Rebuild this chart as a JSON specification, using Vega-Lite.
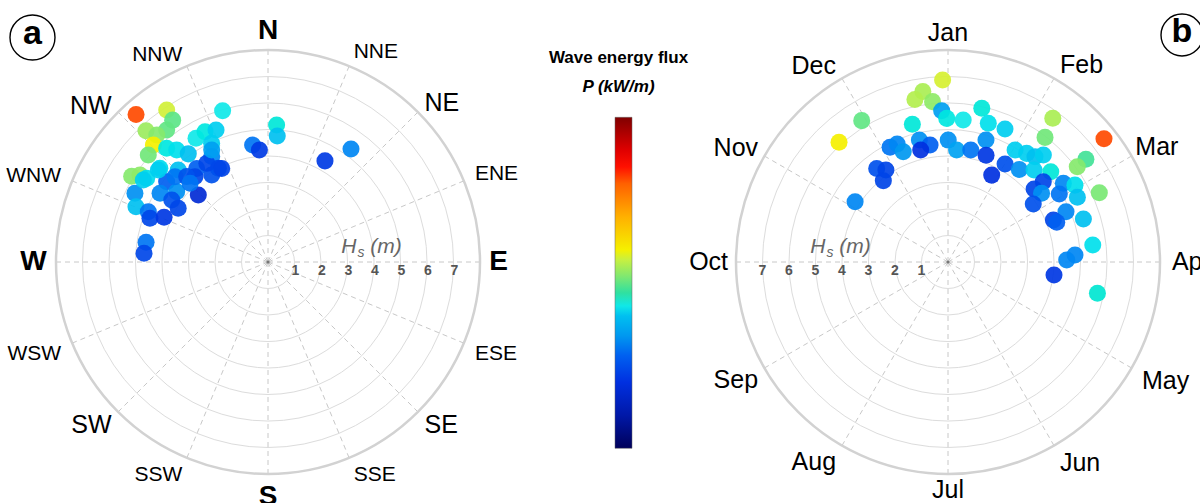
{
"$schema": "https://vega.github.io/schema/vega-lite/v6.json",
"padding": 0,
"spacing": 79,
"bounds": "flush",
"config": {"view": {"stroke": null}, "font": "Liberation Sans"},
"datasets": {
"rings": [{"r":1},{"r":2},{"r":3},{"r":4},{"r":5},{"r":6},{"r":7}],
"outer": [{"r":8}],
"center": [{"r":0}],
"spokesA": [{"deg":0},{"deg":22.5},{"deg":45},{"deg":67.5},{"deg":90},{"deg":112.5},{"deg":135},{"deg":157.5},{"deg":180},{"deg":202.5},{"deg":225},{"deg":247.5},{"deg":270},{"deg":292.5},{"deg":315},{"deg":337.5}],
"spokesB": [{"deg":0},{"deg":30},{"deg":60},{"deg":90},{"deg":120},{"deg":150},{"deg":180},{"deg":210},{"deg":240},{"deg":270},{"deg":300},{"deg":330}],
"compass": [{"name":"N","deg":0,"level":1},{"name":"NNE","deg":22.5,"level":3},{"name":"NE","deg":45,"level":2},{"name":"ENE","deg":67.5,"level":3},{"name":"E","deg":90,"level":1},{"name":"ESE","deg":112.5,"level":3},{"name":"SE","deg":135,"level":2},{"name":"SSE","deg":157.5,"level":3},{"name":"S","deg":180,"level":1},{"name":"SSW","deg":202.5,"level":3},{"name":"SW","deg":225,"level":2},{"name":"WSW","deg":247.5,"level":3},{"name":"W","deg":270,"level":1},{"name":"WNW","deg":292.5,"level":3},{"name":"NW","deg":315,"level":2},{"name":"NNW","deg":337.5,"level":3}],
"months": [{"name":"Jan","deg":0},{"name":"Feb","deg":30},{"name":"Mar","deg":60},{"name":"Apr","deg":90},{"name":"May","deg":120},{"name":"Jun","deg":150},{"name":"Jul","deg":180},{"name":"Aug","deg":210},{"name":"Sep","deg":240},{"name":"Oct","deg":270},{"name":"Nov","deg":300},{"name":"Dec","deg":330}],
"hsTicks": [{"v":1},{"v":2},{"v":3},{"v":4},{"v":5},{"v":6},{"v":7}],
"hsLabA": [{"x":3.92,"y":0}],
"hsLabB": [{"x":-4.04,"y":0}],
"tagA": [{"tag":"a","x":-8.887,"y":8.472}],
"tagB": [{"tag":"b","x":8.83,"y":8.566}],
"ptsA": [
{"dir":318.2,"hs":7.47,"P":410},{"dir":326.3,"hs":6.89,"P":288},{"dir":326.1,"hs":6.45,"P":248},{"dir":343.3,"hs":5.96,"P":215},
{"dir":317.1,"hs":6.76,"P":270},{"dir":322.5,"hs":6.28,"P":250},{"dir":318.8,"hs":6.37,"P":262},{"dir":315.6,"hs":6.18,"P":300},
{"dir":311.8,"hs":6.06,"P":255},{"dir":302.2,"hs":6.08,"P":262},{"dir":304.2,"hs":5.84,"P":265},{"dir":318.3,"hs":5.75,"P":218},
{"dir":320.8,"hs":5.45,"P":212},{"dir":329.8,"hs":5.40,"P":215},{"dir":334.2,"hs":5.46,"P":218},{"dir":338.5,"hs":5.35,"P":205},
{"dir":323.6,"hs":5.07,"P":200},{"dir":334.6,"hs":4.96,"P":205},{"dir":331.9,"hs":4.51,"P":160},{"dir":332.1,"hs":4.00,"P":118},
{"dir":327.1,"hs":3.91,"P":128},{"dir":322.7,"hs":4.44,"P":140},{"dir":319.4,"hs":4.24,"P":118},{"dir":315.7,"hs":4.85,"P":200},
{"dir":310.9,"hs":5.40,"P":210},{"dir":304.6,"hs":5.56,"P":210},{"dir":308.4,"hs":4.88,"P":140},{"dir":307.6,"hs":4.35,"P":165},
{"dir":302.5,"hs":4.83,"P":160},{"dir":297.3,"hs":5.65,"P":165},{"dir":292.7,"hs":5.40,"P":200},{"dir":302.8,"hs":4.32,"P":128},
{"dir":300.9,"hs":3.95,"P":118},{"dir":313.9,"hs":3.65,"P":90},{"dir":292.8,"hs":4.90,"P":150},{"dir":290.3,"hs":4.75,"P":118},
{"dir":293.3,"hs":4.27,"P":105},{"dir":279.2,"hs":4.66,"P":150},{"dir":274.0,"hs":4.69,"P":118},{"dir":352.5,"hs":4.45,"P":150},
{"dir":355.6,"hs":4.24,"P":108},{"dir":3.6,"hs":5.18,"P":220},{"dir":4.2,"hs":4.77,"P":200},{"dir":29.4,"hs":4.38,"P":108},
{"dir":36.3,"hs":5.29,"P":160},{"dir":328.2,"hs":4.38,"P":118},{"dir":333.7,"hs":3.94,"P":115},{"dir":333.3,"hs":4.73,"P":175},
{"dir":312.5,"hs":4.76,"P":150},{"dir":316.4,"hs":4.45,"P":128},{"dir":315.3,"hs":4.18,"P":150},{"dir":303.3,"hs":5.63,"P":205},
{"dir":310.0,"hs":5.40,"P":205}
],
"ptsB": [
{"ang":358.3,"hs":6.87,"P":290},{"ang":351.6,"hs":6.50,"P":275},{"ang":348.5,"hs":6.26,"P":278},{"ang":354.5,"hs":6.08,"P":265},
{"ang":357.6,"hs":5.71,"P":175},{"ang":359.5,"hs":5.42,"P":218},{"ang":6.1,"hs":5.39,"P":215},{"ang":345.5,"hs":5.37,"P":220},
{"ang":328.6,"hs":6.25,"P":250},{"ang":317.7,"hs":6.11,"P":300},{"ang":346.8,"hs":4.73,"P":165},{"ang":351.3,"hs":4.47,"P":140},
{"ang":346.3,"hs":4.35,"P":100},{"ang":0.1,"hs":4.60,"P":165},{"ang":4.4,"hs":4.24,"P":178},{"ang":11.5,"hs":4.31,"P":150},
{"ang":333.2,"hs":4.85,"P":150},{"ang":336.7,"hs":4.85,"P":160},{"ang":337.9,"hs":4.49,"P":170},{"ang":322.7,"hs":4.44,"P":125},
{"ang":326.0,"hs":4.19,"P":115},{"ang":321.5,"hs":3.92,"P":115},{"ang":303.0,"hs":4.18,"P":160},{"ang":12.4,"hs":5.94,"P":220},
{"ang":16.2,"hs":5.45,"P":212},{"ang":23.2,"hs":5.46,"P":205},{"ang":17.3,"hs":4.82,"P":165},{"ang":19.6,"hs":4.28,"P":105},
{"ang":26.7,"hs":3.67,"P":100},{"ang":30.2,"hs":4.28,"P":125},{"ang":30.9,"hs":4.93,"P":205},{"ang":35.9,"hs":5.06,"P":205},
{"ang":39.6,"hs":5.15,"P":200},{"ang":41.7,"hs":5.41,"P":205},{"ang":37.6,"hs":4.41,"P":165},{"ang":43.1,"hs":4.75,"P":205},
{"ang":48.7,"hs":5.16,"P":220},{"ang":49.9,"hs":4.70,"P":115},{"ang":49.7,"hs":4.26,"P":115},{"ang":53.7,"hs":4.38,"P":165},
{"ang":55.8,"hs":3.89,"P":125},{"ang":55.7,"hs":5.27,"P":160},{"ang":58.8,"hs":5.60,"P":212},{"ang":58.6,"hs":4.92,"P":150},
{"ang":63.4,"hs":5.46,"P":200},{"ang":66.9,"hs":4.84,"P":160},{"ang":68.3,"hs":4.28,"P":115},{"ang":69.9,"hs":4.37,"P":140},
{"ang":72.4,"hs":5.36,"P":200},{"ang":83.3,"hs":5.50,"P":212},{"ang":86.8,"hs":4.80,"P":160},{"ang":89.0,"hs":4.48,"P":160},
{"ang":97.0,"hs":4.03,"P":105},{"ang":101.8,"hs":5.76,"P":222},{"ang":36.1,"hs":6.71,"P":275},{"ang":37.9,"hs":5.96,"P":255},
{"ang":51.7,"hs":7.50,"P":410},{"ang":53.3,"hs":6.49,"P":240},{"ang":53.6,"hs":6.06,"P":262},{"ang":65.4,"hs":6.28,"P":258}
]
},
"hconcat": [
{
"width": 536, "height": 503,
"encoding": {
"x": {"field":"x","type":"quantitative","scale":{"domain":[-10.113,10.113],"nice":false,"zero":false},"axis":null},
"y": {"field":"y","type":"quantitative","scale":{"domain":[-9.094,9.887],"nice":false,"zero":false},"axis":null}
},
"layer": [
{"data":{"name":"spokesA"},"transform":[{"calculate":"0","as":"x"},{"calculate":"0","as":"y"},{"calculate":"8*sin(datum.deg*PI/180)","as":"x2"},{"calculate":"8*cos(datum.deg*PI/180)","as":"y2"}],
"mark":{"type":"rule","color":"#c8c8c8","strokeWidth":1,"strokeDash":[5,4]},
"encoding":{"x2":{"field":"x2"},"y2":{"field":"y2"}}},
{"data":{"name":"rings"},"transform":[{"calculate":"0","as":"x"},{"calculate":"0","as":"y"}],
"mark":{"type":"point","shape":"circle","filled":false,"color":"#dcdcdc","strokeWidth":1,"opacity":1},
"encoding":{"size":{"field":"r","type":"quantitative","scale":{"type":"pow","exponent":2,"domain":[0,8],"range":[0,179776]},"legend":null}}},
{"data":{"name":"outer"},"transform":[{"calculate":"0","as":"x"},{"calculate":"0","as":"y"}],
"mark":{"type":"point","shape":"circle","filled":false,"color":"#d2d2d2","strokeWidth":2.5,"opacity":1},
"encoding":{"size":{"field":"r","type":"quantitative","scale":{"type":"pow","exponent":2,"domain":[0,8],"range":[0,179776]},"legend":null}}},
{"data":{"name":"center"},"transform":[{"calculate":"0","as":"x"},{"calculate":"0","as":"y"}],
"mark":{"type":"circle","size":10,"color":"#777","opacity":1}},
{"data":{"name":"ptsA"},"transform":[{"calculate":"datum.hs*sin(datum.dir*PI/180)","as":"x"},{"calculate":"datum.hs*cos(datum.dir*PI/180)","as":"y"}],
"mark":{"type":"circle","size":290,"opacity":0.92},
"encoding":{"color":{"field":"P","type":"quantitative","scale":{"domain":[0,50,100,140,170,200,215,235,260,285,300,350,400,425,450,500],"range":["#00005a","#0018a8","#0030e0","#0060f0","#0098f0","#00c0f0","#10e8e8","#30e0a0","#80e870","#c8f040","#f5f000","#ffb000","#ff6000","#ff1000","#e00000","#800000"]},"legend":null}}},
{"data":{"name":"compass"},"transform":[{"filter":"datum.level==1 && (datum.deg==0 || datum.deg==180)"},{"calculate":"8.7*sin(datum.deg*PI/180)","as":"x"},{"calculate":"datum.deg==180 ? -8.85 : 8.7","as":"y"}],
"mark":{"type":"text","fontSize":28,"fontWeight":"bold","color":"#000","align":"center","baseline":"middle","clip":true},
"encoding":{"text":{"field":"name"}}},
{"data":{"name":"compass"},"transform":[{"filter":"datum.level==1 && datum.deg==90"},{"calculate":"8.35","as":"x"},{"calculate":"0","as":"y"}],
"mark":{"type":"text","fontSize":28,"fontWeight":"bold","color":"#000","align":"left","baseline":"middle","clip":true},
"encoding":{"text":{"field":"name"}}},
{"data":{"name":"compass"},"transform":[{"filter":"datum.level==1 && datum.deg==270"},{"calculate":"-8.35","as":"x"},{"calculate":"0","as":"y"}],
"mark":{"type":"text","fontSize":28,"fontWeight":"bold","color":"#000","align":"right","baseline":"middle","clip":true},
"encoding":{"text":{"field":"name"}}},
{"data":{"name":"compass"},"transform":[{"filter":"datum.level==2 && datum.deg<180"},{"calculate":"8.35*sin(datum.deg*PI/180)","as":"x"},{"calculate":"8.35*cos(datum.deg*PI/180) + (cos(datum.deg*PI/180)<0 ? -0.24 : 0.1)","as":"y"}],
"mark":{"type":"text","fontSize":25,"color":"#000","align":"left","baseline":"middle","clip":true},
"encoding":{"text":{"field":"name"}}},
{"data":{"name":"compass"},"transform":[{"filter":"datum.level==2 && datum.deg>180"},{"calculate":"8.35*sin(datum.deg*PI/180)","as":"x"},{"calculate":"8.35*cos(datum.deg*PI/180) + (cos(datum.deg*PI/180)<0 ? -0.24 : 0)","as":"y"}],
"mark":{"type":"text","fontSize":25,"color":"#000","align":"right","baseline":"middle","clip":true},
"encoding":{"text":{"field":"name"}}},
{"data":{"name":"compass"},"transform":[{"filter":"datum.level==3 && datum.deg<180"},{"calculate":"8.45*sin(datum.deg*PI/180)","as":"x"},{"calculate":"8.45*cos(datum.deg*PI/180) + (cos(datum.deg*PI/180)<0 ? -0.24 : 0.1)","as":"y"}],
"mark":{"type":"text","fontSize":21,"color":"#000","align":"left","baseline":"middle","clip":true},
"encoding":{"text":{"field":"name"}}},
{"data":{"name":"compass"},"transform":[{"filter":"datum.level==3 && datum.deg>180"},{"calculate":"8.45*sin(datum.deg*PI/180)","as":"x"},{"calculate":"8.45*cos(datum.deg*PI/180) + (cos(datum.deg*PI/180)<0 ? -0.24 : 0)","as":"y"}],
"mark":{"type":"text","fontSize":21,"color":"#000","align":"right","baseline":"middle","clip":true},
"encoding":{"text":{"field":"name"}}},
{"data":{"name":"hsTicks"},"transform":[{"calculate":"datum.v","as":"x"},{"calculate":"0","as":"y"}],
"mark":{"type":"text","fontSize":14,"fontWeight":"bold","color":"#555","align":"center","baseline":"middle","dy":9,"dx":1,"clip":true},
"encoding":{"text":{"field":"v"}}},
{"data":{"name":"hsLabA"},"mark":{"type":"text","text":"H","fontSize":21,"fontStyle":"italic","color":"#666","align":"center","baseline":"middle","dx":-23,"dy":-15,"clip":true}},
{"data":{"name":"hsLabA"},"mark":{"type":"text","text":"s","fontSize":14,"fontStyle":"italic","color":"#666","align":"center","baseline":"middle","dx":-11,"dy":-9,"clip":true}},
{"data":{"name":"hsLabA"},"mark":{"type":"text","text":"(m)","fontSize":21,"fontStyle":"italic","color":"#666","align":"center","baseline":"middle","dx":14,"dy":-15,"clip":true}},
{"data":{"name":"tagA"},"mark":{"type":"point","shape":"circle","filled":false,"color":"#000","strokeWidth":1.4,"size":2025,"opacity":1}},
{"data":{"name":"tagA"},"mark":{"type":"text","fontSize":34,"fontWeight":"bold","color":"#000","align":"center","baseline":"middle","dy":-3,"clip":true},
"encoding":{"text":{"field":"tag"}}}
]
},
{
"width": 17, "height": 503,
"data": {"values": [{"lo": 0, "hi": 500}]},
"encoding": {
"y": {"field":"lo","type":"quantitative","scale":{"domain":[-82.6,677.2],"nice":false,"zero":false},
"axis":{"orient":"left","values":[0,100,200,300,400,500],"domain":false,"grid":false,"ticks":true,"tickSize":4,"tickColor":"#333","labelFont":"Liberation Sans","labelFontWeight":"bold","labelFontSize":15,"labelColor":"#111","labelPadding":2,"title":null}}
},
"layer": [
{"mark":{"type":"rect","stroke":"#666","strokeWidth":0.5,
"fill":{"gradient":"linear","x1":0,"y1":1,"x2":0,"y2":0,"stops":[
{"offset":0,"color":"#00005a"},{"offset":0.1,"color":"#0018a8"},{"offset":0.2,"color":"#0030e0"},{"offset":0.28,"color":"#0060f0"},{"offset":0.34,"color":"#0098f0"},{"offset":0.4,"color":"#00c0f0"},{"offset":0.43,"color":"#10e8e8"},{"offset":0.47,"color":"#30e0a0"},{"offset":0.52,"color":"#80e870"},{"offset":0.57,"color":"#c8f040"},{"offset":0.6,"color":"#f5f000"},{"offset":0.7,"color":"#ffb000"},{"offset":0.8,"color":"#ff6000"},{"offset":0.85,"color":"#ff1000"},{"offset":0.9,"color":"#e00000"},{"offset":1,"color":"#800000"}]}},
"encoding":{"y2":{"field":"hi"}}},
{"mark":{"type":"text","text":"Wave energy flux","fontSize":17,"fontWeight":"bold","color":"#000","align":"center","baseline":"middle","dx":-5},
"encoding":{"y":{"datum":589.6,"type":"quantitative","axis":null}}},
{"mark":{"type":"text","text":"P (kW/m)","fontSize":17,"fontWeight":"bold","fontStyle":"italic","color":"#000","align":"center","baseline":"middle","dx":-5},
"encoding":{"y":{"datum":545.8,"type":"quantitative","axis":null}}}
]
},
{
"width": 489, "height": 503,
"encoding": {
"x": {"field":"x","type":"quantitative","scale":{"domain":[-8.943,9.509],"nice":false,"zero":false},"axis":null},
"y": {"field":"y","type":"quantitative","scale":{"domain":[-9.094,9.887],"nice":false,"zero":false},"axis":null}
},
"layer": [
{"data":{"name":"spokesB"},"transform":[{"calculate":"0","as":"x"},{"calculate":"0","as":"y"},{"calculate":"8*sin(datum.deg*PI/180)","as":"x2"},{"calculate":"8*cos(datum.deg*PI/180)","as":"y2"}],
"mark":{"type":"rule","color":"#c8c8c8","strokeWidth":1,"strokeDash":[5,4]},
"encoding":{"x2":{"field":"x2"},"y2":{"field":"y2"}}},
{"data":{"name":"rings"},"transform":[{"calculate":"0","as":"x"},{"calculate":"0","as":"y"}],
"mark":{"type":"point","shape":"circle","filled":false,"color":"#dcdcdc","strokeWidth":1,"opacity":1},
"encoding":{"size":{"field":"r","type":"quantitative","scale":{"type":"pow","exponent":2,"domain":[0,8],"range":[0,179776]},"legend":null}}},
{"data":{"name":"outer"},"transform":[{"calculate":"0","as":"x"},{"calculate":"0","as":"y"}],
"mark":{"type":"point","shape":"circle","filled":false,"color":"#d2d2d2","strokeWidth":2.5,"opacity":1},
"encoding":{"size":{"field":"r","type":"quantitative","scale":{"type":"pow","exponent":2,"domain":[0,8],"range":[0,179776]},"legend":null}}},
{"data":{"name":"center"},"transform":[{"calculate":"0","as":"x"},{"calculate":"0","as":"y"}],
"mark":{"type":"circle","size":10,"color":"#777","opacity":1}},
{"data":{"name":"ptsB"},"transform":[{"calculate":"datum.hs*sin(datum.ang*PI/180)","as":"x"},{"calculate":"datum.hs*cos(datum.ang*PI/180)","as":"y"}],
"mark":{"type":"circle","size":290,"opacity":0.92},
"encoding":{"color":{"field":"P","type":"quantitative","scale":{"domain":[0,50,100,140,170,200,215,235,260,285,300,350,400,425,450,500],"range":["#00005a","#0018a8","#0030e0","#0060f0","#0098f0","#00c0f0","#10e8e8","#30e0a0","#80e870","#c8f040","#f5f000","#ffb000","#ff6000","#ff1000","#e00000","#800000"]},"legend":null}}},
{"data":{"name":"months"},"transform":[{"filter":"datum.deg==0 || datum.deg==180"},{"calculate":"0","as":"x"},{"calculate":"datum.deg==180 ? -8.6 : 8.65","as":"y"}],
"mark":{"type":"text","fontSize":25,"color":"#000","align":"center","baseline":"middle"},
"encoding":{"text":{"field":"name"}}},
{"data":{"name":"months"},"transform":[{"filter":"datum.deg>0 && datum.deg<180"},{"calculate":"8.45*sin(datum.deg*PI/180) - (datum.deg==60 ? 0.25 : 0)","as":"x"},{"calculate":"8.45*cos(datum.deg*PI/180) + (cos(datum.deg*PI/180)<-0.01 ? -0.28 : (cos(datum.deg*PI/180)>0.01 ? 0.12 : 0))","as":"y"}],
"mark":{"type":"text","fontSize":25,"color":"#000","align":"left","baseline":"middle","clip":true},
"encoding":{"text":{"field":"name"}}},
{"data":{"name":"months"},"transform":[{"filter":"datum.deg>180"},{"calculate":"8.45*sin(datum.deg*PI/180) + (datum.deg==300 || datum.deg==240 || datum.deg==270 ? 0.15 : 0)","as":"x"},{"calculate":"8.45*cos(datum.deg*PI/180) + (cos(datum.deg*PI/180)<-0.01 ? -0.24 : (cos(datum.deg*PI/180)>0.01 ? 0.08 : 0))","as":"y"}],
"mark":{"type":"text","fontSize":25,"color":"#000","align":"right","baseline":"middle"},
"encoding":{"text":{"field":"name"}}},
{"data":{"name":"hsTicks"},"transform":[{"calculate":"-datum.v","as":"x"},{"calculate":"0","as":"y"}],
"mark":{"type":"text","fontSize":14,"fontWeight":"bold","color":"#555","align":"center","baseline":"middle","dy":9,"dx":0,"clip":true},
"encoding":{"text":{"field":"v"}}},
{"data":{"name":"hsLabB"},"mark":{"type":"text","text":"H","fontSize":21,"fontStyle":"italic","color":"#666","align":"center","baseline":"middle","dx":-23,"dy":-15,"clip":true}},
{"data":{"name":"hsLabB"},"mark":{"type":"text","text":"s","fontSize":14,"fontStyle":"italic","color":"#666","align":"center","baseline":"middle","dx":-11,"dy":-9,"clip":true}},
{"data":{"name":"hsLabB"},"mark":{"type":"text","text":"(m)","fontSize":21,"fontStyle":"italic","color":"#666","align":"center","baseline":"middle","dx":14,"dy":-15,"clip":true}},
{"data":{"name":"tagB"},"mark":{"type":"point","shape":"circle","filled":false,"color":"#000","strokeWidth":1.4,"size":1764,"opacity":1,"clip":true}},
{"data":{"name":"tagB"},"mark":{"type":"text","fontSize":34,"fontWeight":"bold","color":"#000","align":"center","baseline":"middle","dy":-3,"clip":true},
"encoding":{"text":{"field":"tag"}}}
]
}
]
}
